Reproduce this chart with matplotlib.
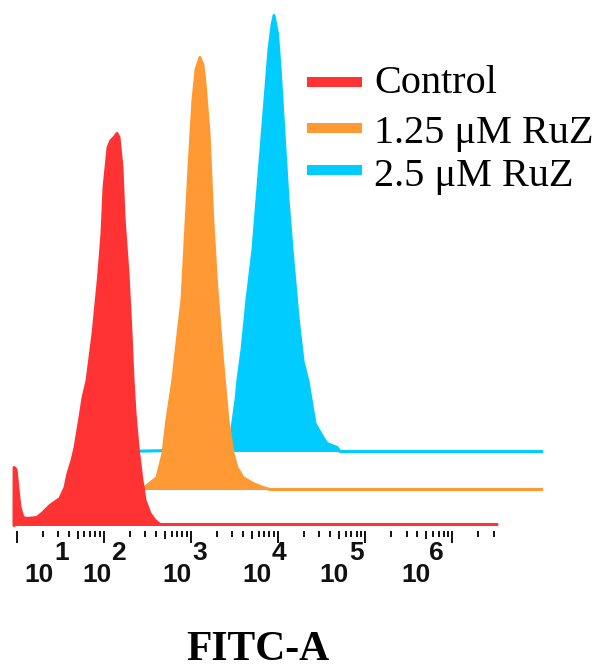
import numpy as np
import matplotlib
matplotlib.use('Agg')
import matplotlib.pyplot as plt
from matplotlib.lines import Line2D
from matplotlib.ticker import FixedLocator

# 数据：横坐标为 log10(FITC-A)，纵坐标为计数
labels = ['Control', '1.25 μM RuZ', '2.5 μM RuZ']
colors = ['#ff3333', '#ff9933', '#00ccff']

control_log = [0.969, 0.970, 0.992, 1.015, 1.038, 1.072, 1.118, 1.233, 1.302, 1.382,
               1.497, 1.555, 1.589, 1.635, 1.670, 1.727, 1.762, 1.808, 1.877, 1.940,
               1.980, 2.003, 2.049, 2.083, 2.118, 2.152, 2.175, 2.209, 2.232, 2.278,
               2.313, 2.336, 2.359, 2.393, 2.439, 2.474, 2.531, 2.589, 2.646, 6.517]
control_counts = [0, 58, 56, 36, 18, 8, 7, 8, 13, 20,
                  27, 38, 52, 65, 78, 108, 128, 145, 192, 248,
                  292, 338, 378, 385, 388, 392, 388, 358, 308, 252,
                  192, 145, 112, 78, 45, 25, 12, 5, 1, 1]

ruz125_log = [2.187, 2.451, 2.497, 2.611, 2.680, 2.726, 2.795, 2.853, 2.899, 2.939,
              2.979, 3.025, 3.060, 3.105, 3.140, 3.163, 3.209, 3.250, 3.295, 3.358,
              3.427, 3.485, 3.530, 3.599, 3.714, 3.829, 3.910, 7.045]
ruz125_counts = [0, 0, 4, 12, 36, 70, 110, 156, 190, 256,
                 322, 390, 420, 432, 424, 406, 356, 272, 206, 135,
                 68, 36, 22, 12, 6, 2, 0, 0]

ruz25_log = [2.187, 3.392, 3.450, 3.519, 3.542, 3.588, 3.645, 3.714, 3.760, 3.806,
             3.852, 3.898, 3.932, 3.955, 3.995, 4.024, 4.070, 4.116, 4.162, 4.231,
             4.289, 4.346, 4.426, 4.518, 4.564, 4.679, 4.713, 7.045]
ruz25_counts = [0, 2, 8, 52, 72, 102, 152, 202, 252, 302,
                352, 402, 426, 436, 418, 384, 318, 252, 202, 134,
                90, 70, 28, 14, 8, 4, 0, 0]

decades = [1, 2, 3, 4, 5, 6]

# 叠加偏移（纵向）
offsets = [0, 36, 74]
zorders = [3, 2, 1]

fig = plt.figure(figsize=(6.03, 6.69), dpi=100)
ax = fig.add_axes([0, 138 / 669, 1, 531 / 669])

series = [(control_log, control_counts), (ruz125_log, ruz125_counts), (ruz25_log, ruz25_counts)]
for (xl, yc), c, off, z in zip(series, colors, offsets, zorders):
    x = 10.0 ** np.array(xl)
    y = np.array(yc, dtype=float) + off
    ax.fill_between(x, off, y, color=c, lw=0, zorder=z)
    ax.plot(x, y, color=c, lw=2.2, zorder=z, solid_capstyle='round' if off == 0 else 'butt')

ax.set_xscale('log')
ax.set_xlim(10 ** 0.808, 10 ** 7.734)
ax.set_ylim(-5.5, 525.5)
for s in ax.spines.values():
    s.set_visible(False)
ax.set_yticks([])

# 刻度：主刻度在整十次幂，次刻度 2..9
major = [10.0 ** d for d in decades]
minor = [m * 10.0 ** d for d in decades[:-1] for m in (2, 3, 4, 6, 7, 8, 9)] + [2e6, 3e6]
fives = [5 * 10.0 ** d for d in decades[:-1]]
ax.xaxis.set_major_locator(FixedLocator(major))
ax.xaxis.set_minor_locator(FixedLocator(minor))
ax.tick_params(axis='x', which='major', direction='out', length=8.6, width=1.4,
               color='#111111', labelbottom=False)
ax.tick_params(axis='x', which='minor', direction='out', length=4.3, width=1.4,
               color='#111111', labelbottom=False)
ax.vlines(fives, -13.5, -5.5, colors='#111111', lw=1.4, clip_on=False)

# 刻度标签（FlowJo 风格 10 与指数分开放置）
base_pos = [1.256, 1.917, 2.836, 3.755, 4.639, 5.587]
exp_pos = [1.430, 2.085, 3.015, 3.923, 4.819, 5.737]
tick_font = dict(fontsize=19, fontweight='bold', family='Liberation Sans', color='#111111')
for d, bp, ep in zip(decades, base_pos, exp_pos):
    ax.text(10 ** bp, -56.5, '10', ha='center', va='baseline', **tick_font)
    ax.text(10 ** ep, -34.5, str(d), ha='left', va='baseline', **tick_font)

# 图例
handle_y = [82, 128, 170]
text_y = [93, 143, 186]
for lab, c, hy, ty in zip(labels, colors, handle_y, text_y):
    fig.add_artist(Line2D([307 / 603, 362 / 603], [1 - hy / 669] * 2, transform=fig.transFigure,
                          color=c, lw=7.2, solid_capstyle='butt'))
    fig.text(374 / 603, 1 - ty / 669, lab, fontsize=29, family='Liberation Serif',
             va='baseline', ha='left', color='black')

fig.text(257.5 / 603, 1 - 660 / 669, 'FITC-A', ha='center', va='baseline',
         fontsize=30, fontweight='bold', family='Liberation Serif')

fig.savefig('out.png', dpi=100)
